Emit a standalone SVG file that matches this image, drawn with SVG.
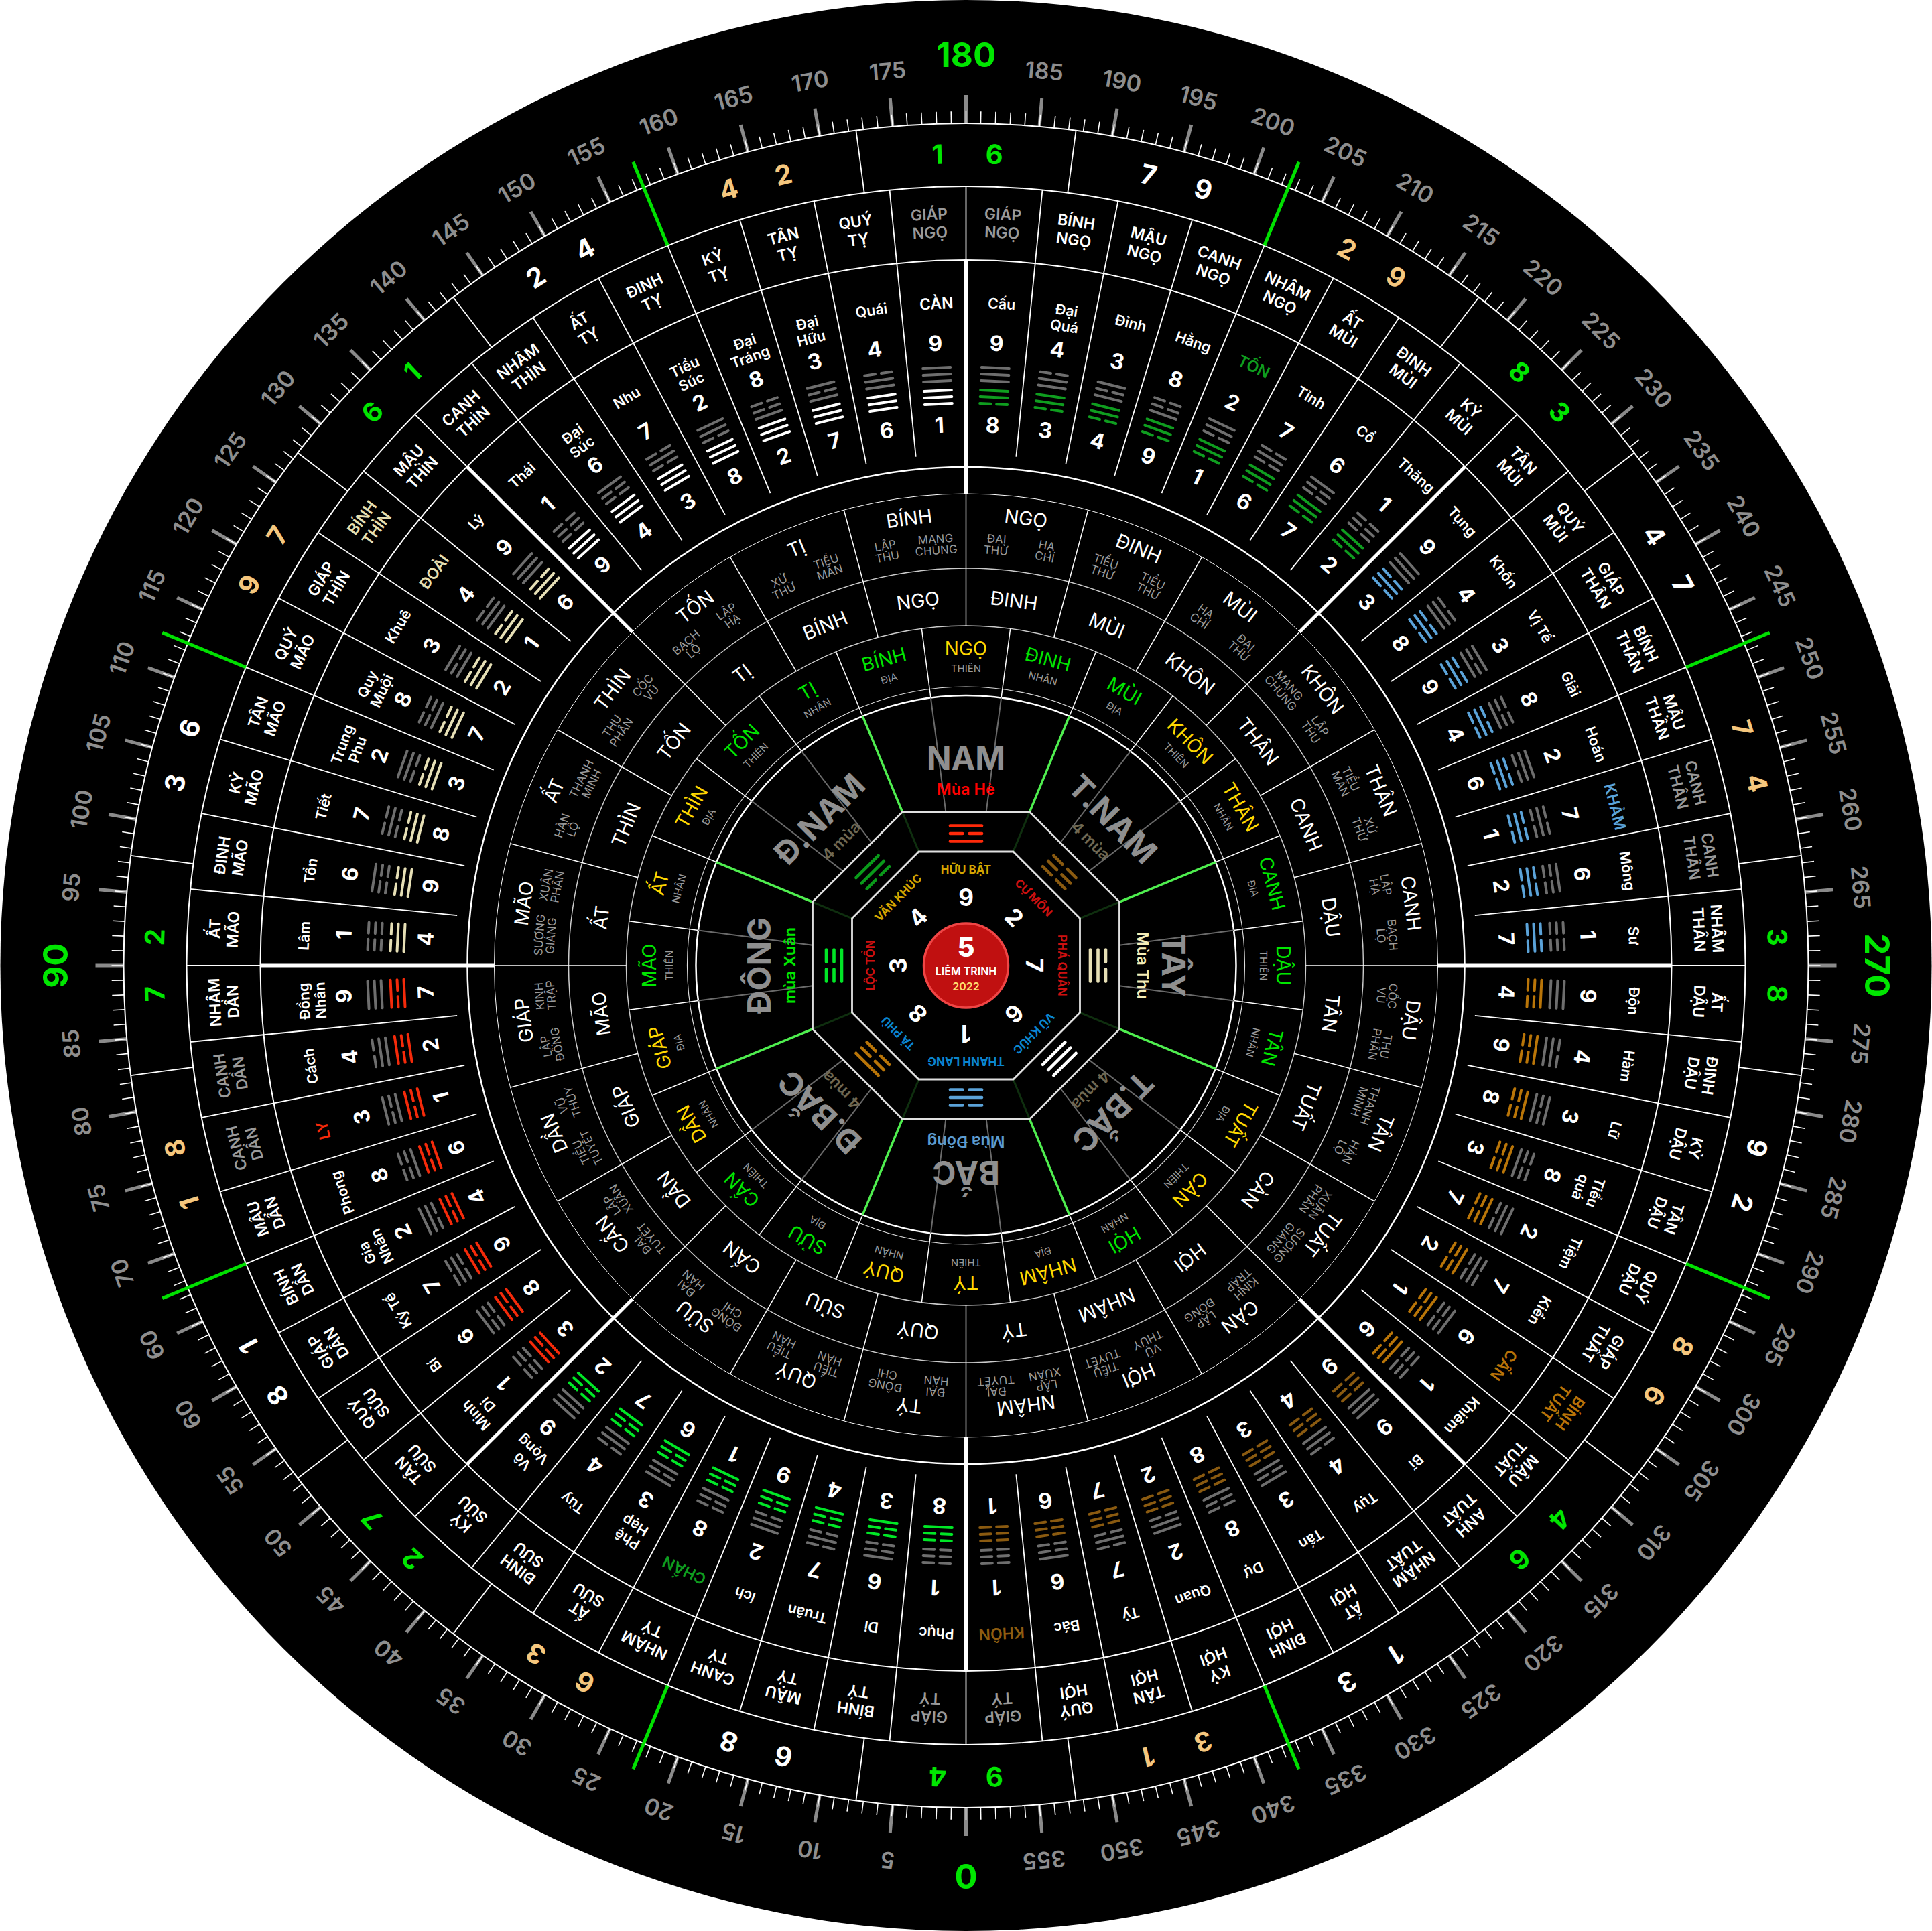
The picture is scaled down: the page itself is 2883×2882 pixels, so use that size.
<svg xmlns="http://www.w3.org/2000/svg" width="2883" height="2882" viewBox="0 0 2883 2882">
<style>
text{font-family:Inter,"Liberation Sans","Noto Sans",sans-serif;text-anchor:middle}
.dg{font-size:34px;font-weight:600;fill:#8e8e8e}
.dG{font-size:51px;font-weight:700;fill:#00e600}
.r{font-size:40px;font-weight:700}
.wh{fill:#fff}.gn{fill:#00e600}.tn{fill:#f5c77e}
.p{font-size:23px;font-weight:600;fill:#fff}
.pg{fill:#999}.po{fill:#b87308}.pc{fill:#e6dfb0}
.n{font-size:21.5px;font-weight:600;fill:#fff}
.N{font-size:23px}
.d{font-size:32px;font-weight:700;fill:#fff}
.o{font-size:28.5px;fill:#fff}
.s{font-size:17px;fill:#9a9a9a}
.t{font-size:28px}.ty{fill:#ffd800}.tg{fill:#00e600}
.u{font-size:15px;fill:#9a9a9a}
.b{font-size:48px;font-weight:700;fill:#8f8f8f}
.m{font-size:23.5px;font-weight:600}
.k{font-size:35px;font-weight:700;fill:#fff}
.l{font-size:17px;font-weight:700}
.c{fill:none;stroke:#fff}
.w{stroke:#fff;stroke-width:1.8}
.tr{fill:none;stroke-width:4;stroke-linecap:round}
</style>
<defs>
<path id="t111" d="M-20.5-10H20.5M-20.5 0H20.5M-20.5 10H20.5"/>
<path id="t011" d="M-20.5-10H-4.5M4.5-10H20.5M-20.5 0H20.5M-20.5 10H20.5"/>
<path id="t101" d="M-20.5-10H20.5M-20.5 0H-4.5M4.5 0H20.5M-20.5 10H20.5"/>
<path id="t001" d="M-20.5-10H-4.5M4.5-10H20.5M-20.5 0H-4.5M4.5 0H20.5M-20.5 10H20.5"/>
<path id="t110" d="M-20.5-10H20.5M-20.5 0H20.5M-20.5 10H-4.5M4.5 10H20.5"/>
<path id="t010" d="M-20.5-10H-4.5M4.5-10H20.5M-20.5 0H20.5M-20.5 10H-4.5M4.5 10H20.5"/>
<path id="t100" d="M-20.5-10H20.5M-20.5 0H-4.5M4.5 0H20.5M-20.5 10H-4.5M4.5 10H20.5"/>
<path id="t000" d="M-20.5-10H-4.5M4.5-10H20.5M-20.5 0H-4.5M4.5 0H20.5M-20.5 10H-4.5M4.5 10H20.5"/>
<g id="u111" class="tr" stroke="#6e6e6e" transform="translate(0 -883)"><use href="#t111"/></g>
<g id="u011" class="tr" stroke="#6e6e6e" transform="translate(0 -883)"><use href="#t011"/></g>
<g id="u101" class="tr" stroke="#6e6e6e" transform="translate(0 -883)"><use href="#t101"/></g>
<g id="u001" class="tr" stroke="#6e6e6e" transform="translate(0 -883)"><use href="#t001"/></g>
<g id="u110" class="tr" stroke="#6e6e6e" transform="translate(0 -883)"><use href="#t110"/></g>
<g id="u010" class="tr" stroke="#6e6e6e" transform="translate(0 -883)"><use href="#t010"/></g>
<g id="u100" class="tr" stroke="#6e6e6e" transform="translate(0 -883)"><use href="#t100"/></g>
<g id="u000" class="tr" stroke="#6e6e6e" transform="translate(0 -883)"><use href="#t000"/></g>
<g id="lT" class="tr" stroke="#0f9d1f" transform="translate(0 -849)"><use href="#t110"/></g>
<g id="lK" class="tr" stroke="#5ba3d9" transform="translate(0 -849)"><use href="#t010"/></g>
<g id="lC" class="tr" stroke="#b97508" transform="translate(0 -849)"><use href="#t100"/></g>
<g id="lN" class="tr" stroke="#8a5a10" transform="translate(0 -849)"><use href="#t000"/></g>
<g id="lH" class="tr" stroke="#00e626" transform="translate(0 -849)"><use href="#t001"/></g>
<g id="lL" class="tr" stroke="#f52a0a" transform="translate(0 -849)"><use href="#t101"/></g>
<g id="lD" class="tr" stroke="#e6dfb5" transform="translate(0 -849)"><use href="#t011"/></g>
<g id="lQ" class="tr" stroke="#fff" transform="translate(0 -849)"><use href="#t111"/></g>
<g id="d5"><line y1="-1257" y2="-1299" stroke="#8a8a8a" stroke-width="5"/><line y1="-1257" y2="-1275" stroke="#fff" stroke-width="1.6"/><line transform="rotate(1)" y1="-1257" y2="-1275" stroke="#fff" stroke-width="1.6"/><line transform="rotate(2)" y1="-1257" y2="-1275" stroke="#fff" stroke-width="1.6"/><line transform="rotate(3)" y1="-1257" y2="-1275" stroke="#fff" stroke-width="1.6"/><line transform="rotate(4)" y1="-1257" y2="-1275" stroke="#fff" stroke-width="1.6"/></g>
<g id="d30"><use href="#d5"/><use href="#d5" transform="rotate(5)"/><use href="#d5" transform="rotate(10)"/><use href="#d5" transform="rotate(15)"/><use href="#d5" transform="rotate(20)"/><use href="#d5" transform="rotate(25)"/></g>
<line id="hs" class="w" y1="-1163" y2="-763"/>
<g id="oct45"><line class="w" y1="-1163" y2="-1053"/><line y1="-1053" y2="-704" stroke="#fff" stroke-width="5"/><use href="#hs" transform="rotate(5.625)"/><use href="#hs" transform="rotate(11.25)"/><use href="#hs" transform="rotate(16.875)"/><use href="#hs" transform="rotate(22.5)"/><use href="#hs" transform="rotate(28.125)"/><use href="#hs" transform="rotate(33.75)"/><use href="#hs" transform="rotate(39.375)"/></g>
<g id="rg15"><line class="w" y1="-1163" y2="-1257" transform="rotate(7.5)"/><line y1="-1163" y2="-1298" stroke="#00e000" stroke-width="5" transform="rotate(22.5)"/><line class="w" y1="-1163" y2="-1257" transform="rotate(37.5)"/></g>
<g id="mid"><line y1="-507" y2="-704" stroke="#fff" stroke-width="1.5"/><line y1="-403" y2="-507" stroke="#fff" stroke-width="1.5" transform="rotate(7.5)"/></g>
<g id="mid45"><use href="#mid"/><use href="#mid" transform="rotate(15)"/><use href="#mid" transform="rotate(30)"/><line y1="-231" y2="-403" stroke="#6a6a6a" stroke-width="2" transform="rotate(7.5)"/><line y1="-231" y2="-403" stroke="#6a6a6a" stroke-width="2" transform="rotate(-7.5)"/><line y1="-248" y2="-403" stroke="#4fee4f" stroke-width="3.5" transform="rotate(22.5)"/><line y1="-184" y2="-248" stroke="#0f2f0f" stroke-width="3" transform="rotate(22.5)"/></g>
</defs>
<rect width="2883" height="2882" fill="#fff"/>
<circle cx="1441.5" cy="1441" r="1441" fill="#000"/>
<g transform="translate(1441.5 1441)">
<g id="connectors">
<g id="ticks"><use href="#d30"/><use href="#d30" transform="rotate(30)"/><use href="#d30" transform="rotate(60)"/><use href="#d30" transform="rotate(90)"/><use href="#d30" transform="rotate(120)"/><use href="#d30" transform="rotate(150)"/><use href="#d30" transform="rotate(180)"/><use href="#d30" transform="rotate(210)"/><use href="#d30" transform="rotate(240)"/><use href="#d30" transform="rotate(270)"/><use href="#d30" transform="rotate(300)"/><use href="#d30" transform="rotate(330)"/></g>
<circle class="c" r="1257" stroke-width="2"/>
<circle class="c" r="1163" stroke-width="2"/>
<circle class="c" r="1053" stroke-width="2"/>
<circle class="c" r="744" stroke-width="2.5"/>
<circle class="c" r="704" stroke-width="1"/>
<circle class="c" r="593" stroke-width="1.5" style="stroke:#ccc"/>
<circle class="c" r="507" stroke-width="1.5" style="stroke:#ccc"/>
<circle class="c" r="416" stroke-width="1.2" style="stroke:#ddd"/>
<circle class="c" r="403" stroke-width="2.5"/>
<g id="ringlines"><use href="#rg15"/><use href="#rg15" transform="rotate(45)"/><use href="#rg15" transform="rotate(90)"/><use href="#rg15" transform="rotate(135)"/><use href="#rg15" transform="rotate(180)"/><use href="#rg15" transform="rotate(225)"/><use href="#rg15" transform="rotate(270)"/><use href="#rg15" transform="rotate(315)"/></g>
<g id="hexspokes"><use href="#oct45"/><use href="#oct45" transform="rotate(45)"/><use href="#oct45" transform="rotate(90)"/><use href="#oct45" transform="rotate(135)"/><use href="#oct45" transform="rotate(180)"/><use href="#oct45" transform="rotate(225)"/><use href="#oct45" transform="rotate(270)"/><use href="#oct45" transform="rotate(315)"/></g>
<g id="midspokes"><use href="#mid45"/><use href="#mid45" transform="rotate(45)"/><use href="#mid45" transform="rotate(90)"/><use href="#mid45" transform="rotate(135)"/><use href="#mid45" transform="rotate(180)"/><use href="#mid45" transform="rotate(225)"/><use href="#mid45" transform="rotate(270)"/><use href="#mid45" transform="rotate(315)"/></g>
</g>
<g id="degrees">
<text class="dG" y="-1341" transform="rotate(180)">0</text><text class="dg" y="-1328" transform="rotate(185)">5</text><text class="dg" y="-1328" transform="rotate(190)">10</text><text class="dg" y="-1328" transform="rotate(195)">15</text><text class="dg" y="-1328" transform="rotate(200)">20</text><text class="dg" y="-1328" transform="rotate(205)">25</text><text class="dg" y="-1328" transform="rotate(210)">30</text><text class="dg" y="-1328" transform="rotate(215)">35</text><text class="dg" y="-1328" transform="rotate(220)">40</text><text class="dg" y="-1328" transform="rotate(225)">45</text><text class="dg" y="-1328" transform="rotate(230)">50</text><text class="dg" y="-1328" transform="rotate(235)">55</text><text class="dg" y="-1328" transform="rotate(240)">60</text><text class="dg" y="-1328" transform="rotate(245)">60</text><text class="dg" y="-1328" transform="rotate(250)">70</text><text class="dg" y="-1328" transform="rotate(255)">75</text><text class="dg" y="-1328" transform="rotate(260)">80</text><text class="dg" y="-1328" transform="rotate(265)">85</text>
<text class="dG" y="-1341" transform="rotate(270)">90</text><text class="dg" y="-1328" transform="rotate(275)">95</text><text class="dg" y="-1328" transform="rotate(280)">100</text><text class="dg" y="-1328" transform="rotate(285)">105</text><text class="dg" y="-1328" transform="rotate(290)">110</text><text class="dg" y="-1328" transform="rotate(295)">115</text><text class="dg" y="-1328" transform="rotate(300)">120</text><text class="dg" y="-1328" transform="rotate(305)">125</text><text class="dg" y="-1328" transform="rotate(310)">130</text><text class="dg" y="-1328" transform="rotate(315)">135</text><text class="dg" y="-1328" transform="rotate(320)">140</text><text class="dg" y="-1328" transform="rotate(325)">145</text><text class="dg" y="-1328" transform="rotate(330)">150</text><text class="dg" y="-1328" transform="rotate(335)">155</text><text class="dg" y="-1328" transform="rotate(340)">160</text><text class="dg" y="-1328" transform="rotate(345)">165</text><text class="dg" y="-1328" transform="rotate(350)">170</text><text class="dg" y="-1328" transform="rotate(355)">175</text>
<text class="dG" y="-1341">180</text><text class="dg" y="-1328" transform="rotate(5)">185</text><text class="dg" y="-1328" transform="rotate(10)">190</text><text class="dg" y="-1328" transform="rotate(15)">195</text><text class="dg" y="-1328" transform="rotate(20)">200</text><text class="dg" y="-1328" transform="rotate(25)">205</text><text class="dg" y="-1328" transform="rotate(30)">210</text><text class="dg" y="-1328" transform="rotate(35)">215</text><text class="dg" y="-1328" transform="rotate(40)">220</text><text class="dg" y="-1328" transform="rotate(45)">225</text><text class="dg" y="-1328" transform="rotate(50)">230</text><text class="dg" y="-1328" transform="rotate(55)">235</text><text class="dg" y="-1328" transform="rotate(60)">240</text><text class="dg" y="-1328" transform="rotate(65)">245</text><text class="dg" y="-1328" transform="rotate(70)">250</text><text class="dg" y="-1328" transform="rotate(75)">255</text><text class="dg" y="-1328" transform="rotate(80)">260</text><text class="dg" y="-1328" transform="rotate(85)">265</text>
<text class="dG" y="-1341" transform="rotate(90)">270</text><text class="dg" y="-1328" transform="rotate(95)">275</text><text class="dg" y="-1328" transform="rotate(100)">280</text><text class="dg" y="-1328" transform="rotate(105)">285</text><text class="dg" y="-1328" transform="rotate(110)">290</text><text class="dg" y="-1328" transform="rotate(115)">295</text><text class="dg" y="-1328" transform="rotate(120)">300</text><text class="dg" y="-1328" transform="rotate(125)">305</text><text class="dg" y="-1328" transform="rotate(130)">310</text><text class="dg" y="-1328" transform="rotate(135)">315</text><text class="dg" y="-1328" transform="rotate(140)">320</text><text class="dg" y="-1328" transform="rotate(145)">325</text><text class="dg" y="-1328" transform="rotate(150)">330</text><text class="dg" y="-1328" transform="rotate(155)">335</text><text class="dg" y="-1328" transform="rotate(160)">340</text><text class="dg" y="-1328" transform="rotate(165)">345</text><text class="dg" y="-1328" transform="rotate(170)">350</text><text class="dg" y="-1328" transform="rotate(175)">355</text>
</g>
<g id="ring24">
<text class="r gn" y="-1197" transform="rotate(-2)">1</text><text class="r gn" y="-1197" transform="rotate(2)">6</text>
<text class="r wh" y="-1197" transform="rotate(13)">7</text><text class="r wh" y="-1197" transform="rotate(17)">9</text>
<text class="r tn" y="-1197" transform="rotate(28)">2</text><text class="r tn" y="-1197" transform="rotate(32)">9</text>
<text class="r gn" y="-1197" transform="rotate(43)">8</text><text class="r gn" y="-1197" transform="rotate(47)">3</text>
<text class="r wh" y="-1197" transform="rotate(58)">4</text><text class="r wh" y="-1197" transform="rotate(62)">7</text>
<text class="r tn" y="-1197" transform="rotate(73)">7</text><text class="r tn" y="-1197" transform="rotate(77)">4</text>
<text class="r gn" y="-1197" transform="rotate(88)">3</text><text class="r gn" y="-1197" transform="rotate(92)">8</text>
<text class="r wh" y="-1197" transform="rotate(103)">9</text><text class="r wh" y="-1197" transform="rotate(107)">2</text>
<text class="r tn" y="-1197" transform="rotate(118)">8</text><text class="r tn" y="-1197" transform="rotate(122)">6</text>
<text class="r gn" y="-1197" transform="rotate(133)">4</text><text class="r gn" y="-1197" transform="rotate(137)">6</text>
<text class="r wh" y="-1197" transform="rotate(148)">1</text><text class="r wh" y="-1197" transform="rotate(152)">3</text>
<text class="r tn" y="-1197" transform="rotate(163)">3</text><text class="r tn" y="-1197" transform="rotate(167)">1</text>
<text class="r gn" y="-1197" transform="rotate(178)">9</text><text class="r gn" y="-1197" transform="rotate(182)">4</text>
<text class="r wh" y="-1197" transform="rotate(193)">6</text><text class="r wh" y="-1197" transform="rotate(197)">8</text>
<text class="r tn" y="-1197" transform="rotate(208)">6</text><text class="r tn" y="-1197" transform="rotate(212)">3</text>
<text class="r gn" y="-1197" transform="rotate(223)">2</text><text class="r gn" y="-1197" transform="rotate(227)">7</text>
<text class="r wh" y="-1197" transform="rotate(238)">8</text><text class="r wh" y="-1197" transform="rotate(242)">1</text>
<text class="r tn" y="-1197" transform="rotate(253)">1</text><text class="r tn" y="-1197" transform="rotate(257)">8</text>
<text class="r gn" y="-1197" transform="rotate(268)">7</text><text class="r gn" y="-1197" transform="rotate(272)">2</text>
<text class="r wh" y="-1197" transform="rotate(283)">3</text><text class="r wh" y="-1197" transform="rotate(287)">6</text>
<text class="r tn" y="-1197" transform="rotate(298)">9</text><text class="r tn" y="-1197" transform="rotate(302)">7</text>
<text class="r gn" y="-1197" transform="rotate(313)">6</text><text class="r gn" y="-1197" transform="rotate(317)">1</text>
<text class="r wh" y="-1197" transform="rotate(328)">2</text><text class="r wh" y="-1197" transform="rotate(332)">4</text>
<text class="r tn" y="-1197" transform="rotate(343)">4</text><text class="r tn" y="-1197" transform="rotate(347)">2</text>
</g>
<g id="hexagrams">
<g id="h0" transform="rotate(2.8125)"><text class="p pg" y="-1114">GIÁP</text><text class="p pg" y="-1087">NGỌ</text><text class="d" y="-918">9</text><use href="#u111"/><use href="#lT"/><text class="d" y="-796">8</text></g>
<g id="h1" transform="rotate(8.4375)"><text class="p" y="-1114">BÍNH</text><text class="p" y="-1087">NGỌ</text><text class="d" y="-918">4</text><use href="#u011"/><use href="#lT"/><text class="d" y="-796">3</text></g>
<g id="h2" transform="rotate(14.0625)"><text class="p" y="-1114">MẬU</text><text class="p" y="-1087">NGỌ</text><text class="d" y="-918">3</text><use href="#u101"/><use href="#lT"/><text class="d" y="-796">4</text></g>
<g id="h3" transform="rotate(19.6875)"><text class="p" y="-1114">CANH</text><text class="p" y="-1087">NGỌ</text><text class="d" y="-918">8</text><use href="#u001"/><use href="#lT"/><text class="d" y="-796">9</text></g>
<g id="h4" transform="rotate(25.3125)"><text class="p" y="-1114">NHÂM</text><text class="p" y="-1087">NGỌ</text><text class="d" y="-918">2</text><use href="#u110"/><use href="#lT"/><text class="d" y="-796">1</text></g>
<g id="h5" transform="rotate(30.9375)"><text class="p" y="-1114">ẤT</text><text class="p" y="-1087">MÙI</text><text class="d" y="-918">7</text><use href="#u010"/><use href="#lT"/><text class="d" y="-796">6</text></g>
<g id="h6" transform="rotate(36.5625)"><text class="p" y="-1114">ĐINH</text><text class="p" y="-1087">MÙI</text><text class="d" y="-918">6</text><use href="#u100"/><use href="#lT"/><text class="d" y="-796">7</text></g>
<g id="h7" transform="rotate(42.1875)"><text class="p" y="-1114">KỶ</text><text class="p" y="-1087">MÙI</text><text class="d" y="-918">1</text><use href="#u000"/><use href="#lT"/><text class="d" y="-796">2</text></g>
<g id="h8" transform="rotate(47.8125)"><text class="p" y="-1114">TÂN</text><text class="p" y="-1087">MÙI</text><text class="d" y="-918">9</text><use href="#u111"/><use href="#lK"/><text class="d" y="-796">3</text></g>
<g id="h9" transform="rotate(53.4375)"><text class="p" y="-1114">QUÝ</text><text class="p" y="-1087">MÙI</text><text class="d" y="-918">4</text><use href="#u011"/><use href="#lK"/><text class="d" y="-796">8</text></g>
<g id="h10" transform="rotate(59.0625)"><text class="p" y="-1114">GIÁP</text><text class="p" y="-1087">THÂN</text><text class="d" y="-918">3</text><use href="#u101"/><use href="#lK"/><text class="d" y="-796">9</text></g>
<g id="h11" transform="rotate(64.6875)"><text class="p" y="-1114">BÍNH</text><text class="p" y="-1087">THÂN</text><text class="d" y="-918">8</text><use href="#u001"/><use href="#lK"/><text class="d" y="-796">4</text></g>
<g id="h12" transform="rotate(70.3125)"><text class="p" y="-1114">MẬU</text><text class="p" y="-1087">THÂN</text><text class="d" y="-918">2</text><use href="#u110"/><use href="#lK"/><text class="d" y="-796">6</text></g>
<g id="h13" transform="rotate(75.9375)"><text class="p pg" y="-1114">CANH</text><text class="p pg" y="-1087">THÂN</text><text class="d" y="-918">7</text><use href="#u010"/><use href="#lK"/><text class="d" y="-796">1</text></g>
<g id="h14" transform="rotate(81.5625)"><text class="p pg" y="-1114">CANH</text><text class="p pg" y="-1087">THÂN</text><text class="d" y="-918">6</text><use href="#u100"/><use href="#lK"/><text class="d" y="-796">2</text></g>
<g id="h15" transform="rotate(87.1875)"><text class="p" y="-1114">NHÂM</text><text class="p" y="-1087">THÂN</text><text class="d" y="-918">1</text><use href="#u000"/><use href="#lK"/><text class="d" y="-796">7</text></g>
<g id="h16" transform="rotate(92.8125)"><text class="p" y="-1114">ẤT</text><text class="p" y="-1087">DẬU</text><text class="d" y="-918">9</text><use href="#u111"/><use href="#lC"/><text class="d" y="-796">4</text></g>
<g id="h17" transform="rotate(98.4375)"><text class="p" y="-1114">ĐINH</text><text class="p" y="-1087">DẬU</text><text class="d" y="-918">4</text><use href="#u011"/><use href="#lC"/><text class="d" y="-796">9</text></g>
<g id="h18" transform="rotate(104.0625)"><text class="p" y="-1114">KỶ</text><text class="p" y="-1087">DẬU</text><text class="d" y="-918">3</text><use href="#u101"/><use href="#lC"/><text class="d" y="-796">8</text></g>
<g id="h19" transform="rotate(109.6875)"><text class="p" y="-1114">TÂN</text><text class="p" y="-1087">DẬU</text><text class="d" y="-918">8</text><use href="#u001"/><use href="#lC"/><text class="d" y="-796">3</text></g>
<g id="h20" transform="rotate(115.3125)"><text class="p" y="-1114">QUÝ</text><text class="p" y="-1087">DẬU</text><text class="d" y="-918">2</text><use href="#u110"/><use href="#lC"/><text class="d" y="-796">7</text></g>
<g id="h21" transform="rotate(120.9375)"><text class="p" y="-1114">GIÁP</text><text class="p" y="-1087">TUẤT</text><text class="d" y="-918">7</text><use href="#u010"/><use href="#lC"/><text class="d" y="-796">2</text></g>
<g id="h22" transform="rotate(126.5625)"><text class="p po" y="-1114">BÍNH</text><text class="p po" y="-1087">TUẤT</text><text class="d" y="-918">6</text><use href="#u100"/><use href="#lC"/><text class="d" y="-796">1</text></g>
<g id="h23" transform="rotate(132.1875)"><text class="p" y="-1114">MẬU</text><text class="p" y="-1087">TUẤT</text><text class="d" y="-918">1</text><use href="#u000"/><use href="#lC"/><text class="d" y="-796">6</text></g>
<g id="h24" transform="rotate(137.8125)"><text class="p" y="-1114">ANH</text><text class="p" y="-1087">TUẤT</text><text class="d" y="-918">9</text><use href="#u111"/><use href="#lN"/><text class="d" y="-796">9</text></g>
<g id="h25" transform="rotate(143.4375)"><text class="p" y="-1114">NHÂM</text><text class="p" y="-1087">TUẤT</text><text class="d" y="-918">4</text><use href="#u011"/><use href="#lN"/><text class="d" y="-796">4</text></g>
<g id="h26" transform="rotate(149.0625)"><text class="p" y="-1114">ẤT</text><text class="p" y="-1087">HỢI</text><text class="d" y="-918">3</text><use href="#u101"/><use href="#lN"/><text class="d" y="-796">3</text></g>
<g id="h27" transform="rotate(154.6875)"><text class="p" y="-1114">ĐINH</text><text class="p" y="-1087">HỢI</text><text class="d" y="-918">8</text><use href="#u001"/><use href="#lN"/><text class="d" y="-796">8</text></g>
<g id="h28" transform="rotate(160.3125)"><text class="p" y="-1114">KỶ</text><text class="p" y="-1087">HỢI</text><text class="d" y="-918">2</text><use href="#u110"/><use href="#lN"/><text class="d" y="-796">2</text></g>
<g id="h29" transform="rotate(165.9375)"><text class="p" y="-1114">TÂN</text><text class="p" y="-1087">HỢI</text><text class="d" y="-918">7</text><use href="#u010"/><use href="#lN"/><text class="d" y="-796">7</text></g>
<g id="h30" transform="rotate(171.5625)"><text class="p" y="-1114">QUÝ</text><text class="p" y="-1087">HỢI</text><text class="d" y="-918">6</text><use href="#u100"/><use href="#lN"/><text class="d" y="-796">6</text></g>
<g id="h31" transform="rotate(177.1875)"><text class="p pg" y="-1114">GIÁP</text><text class="p pg" y="-1087">TÝ</text><text class="d" y="-918">1</text><use href="#u000"/><use href="#lN"/><text class="d" y="-796">1</text></g>
<g id="h32" transform="rotate(182.8125)"><text class="p pg" y="-1114">GIÁP</text><text class="p pg" y="-1087">TÝ</text><text class="d" y="-918">1</text><use href="#u000"/><use href="#lH"/><text class="d" y="-796">8</text></g>
<g id="h33" transform="rotate(188.4375)"><text class="p" y="-1114">BÍNH</text><text class="p" y="-1087">TÝ</text><text class="d" y="-918">6</text><use href="#u100"/><use href="#lH"/><text class="d" y="-796">3</text></g>
<g id="h34" transform="rotate(194.0625)"><text class="p" y="-1114">MẬU</text><text class="p" y="-1087">TÝ</text><text class="d" y="-918">7</text><use href="#u010"/><use href="#lH"/><text class="d" y="-796">4</text></g>
<g id="h35" transform="rotate(199.6875)"><text class="p" y="-1114">CANH</text><text class="p" y="-1087">TÝ</text><text class="d" y="-918">2</text><use href="#u110"/><use href="#lH"/><text class="d" y="-796">9</text></g>
<g id="h36" transform="rotate(205.3125)"><text class="p" y="-1114">NHÂM</text><text class="p" y="-1087">TÝ</text><text class="d" y="-918">8</text><use href="#u001"/><use href="#lH"/><text class="d" y="-796">1</text></g>
<g id="h37" transform="rotate(210.9375)"><text class="p" y="-1114">ẤT</text><text class="p" y="-1087">SỬU</text><text class="d" y="-918">3</text><use href="#u101"/><use href="#lH"/><text class="d" y="-796">6</text></g>
<g id="h38" transform="rotate(216.5625)"><text class="p" y="-1114">ĐINH</text><text class="p" y="-1087">SỬU</text><text class="d" y="-918">4</text><use href="#u011"/><use href="#lH"/><text class="d" y="-796">7</text></g>
<g id="h39" transform="rotate(222.1875)"><text class="p" y="-1114">KỶ</text><text class="p" y="-1087">SỬU</text><text class="d" y="-918">9</text><use href="#u111"/><use href="#lH"/><text class="d" y="-796">2</text></g>
<g id="h40" transform="rotate(227.8125)"><text class="p" y="-1114">TÂN</text><text class="p" y="-1087">SỬU</text><text class="d" y="-918">1</text><use href="#u000"/><use href="#lL"/><text class="d" y="-796">3</text></g>
<g id="h41" transform="rotate(233.4375)"><text class="p" y="-1114">QUÝ</text><text class="p" y="-1087">SỬU</text><text class="d" y="-918">6</text><use href="#u100"/><use href="#lL"/><text class="d" y="-796">8</text></g>
<g id="h42" transform="rotate(239.0625)"><text class="p" y="-1114">GIÁP</text><text class="p" y="-1087">DẦN</text><text class="d" y="-918">7</text><use href="#u010"/><use href="#lL"/><text class="d" y="-796">9</text></g>
<g id="h43" transform="rotate(244.6875)"><text class="p" y="-1114">BÍNH</text><text class="p" y="-1087">DẦN</text><text class="d" y="-918">2</text><use href="#u110"/><use href="#lL"/><text class="d" y="-796">4</text></g>
<g id="h44" transform="rotate(250.3125)"><text class="p" y="-1114">MẬU</text><text class="p" y="-1087">DẦN</text><text class="d" y="-918">8</text><use href="#u001"/><use href="#lL"/><text class="d" y="-796">6</text></g>
<g id="h45" transform="rotate(255.9375)"><text class="p pg" y="-1114">CANH</text><text class="p pg" y="-1087">DẦN</text><text class="d" y="-918">3</text><use href="#u101"/><use href="#lL"/><text class="d" y="-796">1</text></g>
<g id="h46" transform="rotate(261.5625)"><text class="p pg" y="-1114">CANH</text><text class="p pg" y="-1087">DẦN</text><text class="d" y="-918">4</text><use href="#u011"/><use href="#lL"/><text class="d" y="-796">2</text></g>
<g id="h47" transform="rotate(267.1875)"><text class="p" y="-1114">NHÂM</text><text class="p" y="-1087">DẦN</text><text class="d" y="-918">9</text><use href="#u111"/><use href="#lL"/><text class="d" y="-796">7</text></g>
<g id="h48" transform="rotate(272.8125)"><text class="p" y="-1114">ẤT</text><text class="p" y="-1087">MÃO</text><text class="d" y="-918">1</text><use href="#u000"/><use href="#lD"/><text class="d" y="-796">4</text></g>
<g id="h49" transform="rotate(278.4375)"><text class="p" y="-1114">ĐINH</text><text class="p" y="-1087">MÃO</text><text class="d" y="-918">6</text><use href="#u100"/><use href="#lD"/><text class="d" y="-796">9</text></g>
<g id="h50" transform="rotate(284.0625)"><text class="p" y="-1114">KỶ</text><text class="p" y="-1087">MÃO</text><text class="d" y="-918">7</text><use href="#u010"/><use href="#lD"/><text class="d" y="-796">8</text></g>
<g id="h51" transform="rotate(289.6875)"><text class="p" y="-1114">TÂN</text><text class="p" y="-1087">MÃO</text><text class="d" y="-918">2</text><use href="#u110"/><use href="#lD"/><text class="d" y="-796">3</text></g>
<g id="h52" transform="rotate(295.3125)"><text class="p" y="-1114">QUÝ</text><text class="p" y="-1087">MÃO</text><text class="d" y="-918">8</text><use href="#u001"/><use href="#lD"/><text class="d" y="-796">7</text></g>
<g id="h53" transform="rotate(300.9375)"><text class="p" y="-1114">GIÁP</text><text class="p" y="-1087">THÌN</text><text class="d" y="-918">3</text><use href="#u101"/><use href="#lD"/><text class="d" y="-796">2</text></g>
<g id="h54" transform="rotate(306.5625)"><text class="p pc" y="-1114">BÍNH</text><text class="p pc" y="-1087">THÌN</text><text class="d" y="-918">4</text><use href="#u011"/><use href="#lD"/><text class="d" y="-796">1</text></g>
<g id="h55" transform="rotate(312.1875)"><text class="p" y="-1114">MẬU</text><text class="p" y="-1087">THÌN</text><text class="d" y="-918">9</text><use href="#u111"/><use href="#lD"/><text class="d" y="-796">6</text></g>
<g id="h56" transform="rotate(317.8125)"><text class="p" y="-1114">CANH</text><text class="p" y="-1087">THÌN</text><text class="d" y="-918">1</text><use href="#u000"/><use href="#lQ"/><text class="d" y="-796">9</text></g>
<g id="h57" transform="rotate(323.4375)"><text class="p" y="-1114">NHÂM</text><text class="p" y="-1087">THÌN</text><text class="d" y="-918">6</text><use href="#u100"/><use href="#lQ"/><text class="d" y="-796">4</text></g>
<g id="h58" transform="rotate(329.0625)"><text class="p" y="-1114">ẤT</text><text class="p" y="-1087">TỴ</text><text class="d" y="-918">7</text><use href="#u010"/><use href="#lQ"/><text class="d" y="-796">3</text></g>
<g id="h59" transform="rotate(334.6875)"><text class="p" y="-1114">ĐINH</text><text class="p" y="-1087">TỴ</text><text class="d" y="-918">2</text><use href="#u110"/><use href="#lQ"/><text class="d" y="-796">8</text></g>
<g id="h60" transform="rotate(340.3125)"><text class="p" y="-1114">KỶ</text><text class="p" y="-1087">TỴ</text><text class="d" y="-918">8</text><use href="#u001"/><use href="#lQ"/><text class="d" y="-796">2</text></g>
<g id="h61" transform="rotate(345.9375)"><text class="p" y="-1114">TÂN</text><text class="p" y="-1087">TỴ</text><text class="d" y="-918">3</text><use href="#u101"/><use href="#lQ"/><text class="d" y="-796">7</text></g>
<g id="h62" transform="rotate(351.5625)"><text class="p" y="-1114">QUÝ</text><text class="p" y="-1087">TỴ</text><text class="d" y="-918">4</text><use href="#u011"/><use href="#lQ"/><text class="d" y="-796">6</text></g>
<g id="h63" transform="rotate(357.1875)"><text class="p pg" y="-1114">GIÁP</text><text class="p pg" y="-1087">NGỌ</text><text class="d" y="-918">9</text><use href="#u111"/><use href="#lQ"/><text class="d" y="-796">1</text></g>
</g>
<g id="hexagram-names" transform="translate(4.5 4.5)">
<g transform="rotate(2.8125)"><text class="n" y="-985.5">Cấu</text></g>
<g transform="rotate(8.4375)"><text class="n" y="-985.5">Đại</text><text class="n" y="-961.5">Quá</text></g>
<g transform="rotate(14.0625)"><text class="n" y="-985.5">Đỉnh</text></g>
<g transform="rotate(19.6875)"><text class="n" y="-985.5">Hằng</text></g>
<g transform="rotate(25.3125)"><text class="n N" y="-985.5" style="fill:#0f9d1f">TỐN</text></g>
<g transform="rotate(30.9375)"><text class="n" y="-985.5">Tỉnh</text></g>
<g transform="rotate(36.5625)"><text class="n" y="-985.5">Cổ</text></g>
<g transform="rotate(42.1875)"><text class="n" y="-985.5">Thăng</text></g>
<g transform="rotate(47.8125)"><text class="n" y="-985.5">Tụng</text></g>
<g transform="rotate(53.4375)"><text class="n" y="-985.5">Khốn</text></g>
<g transform="rotate(59.0625)"><text class="n" y="-985.5">Vị Tế</text></g>
<g transform="rotate(64.6875)"><text class="n" y="-985.5">Giải</text></g>
<g transform="rotate(70.3125)"><text class="n" y="-985.5">Hoán</text></g>
<g transform="rotate(75.9375)"><text class="n N" y="-985.5" style="fill:#5ba3d9">KHẢM</text></g>
<g transform="rotate(81.5625)"><text class="n" y="-985.5">Mông</text></g>
<g transform="rotate(87.1875)"><text class="n" y="-985.5">Sư</text></g>
<g transform="rotate(92.8125)"><text class="n" y="-985.5">Độn</text></g>
<g transform="rotate(98.4375)"><text class="n" y="-985.5">Hàm</text></g>
<g transform="rotate(104.0625)"><text class="n" y="-985.5">Lữ</text></g>
<g transform="rotate(109.6875)"><text class="n" y="-985.5">Tiểu</text><text class="n" y="-961.5">quá</text></g>
<g transform="rotate(115.3125)"><text class="n" y="-985.5">Tiệm</text></g>
<g transform="rotate(120.9375)"><text class="n" y="-985.5">Kiển</text></g>
<g transform="rotate(126.5625)"><text class="n N" y="-985.5" style="fill:#b87308">CẤN</text></g>
<g transform="rotate(132.1875)"><text class="n" y="-985.5">Khiêm</text></g>
<g transform="rotate(137.8125)"><text class="n" y="-985.5">Bĩ</text></g>
<g transform="rotate(143.4375)"><text class="n" y="-985.5">Tụy</text></g>
<g transform="rotate(149.0625)"><text class="n" y="-985.5">Tấn</text></g>
<g transform="rotate(154.6875)"><text class="n" y="-985.5">Dự</text></g>
<g transform="rotate(160.3125)"><text class="n" y="-985.5">Quan</text></g>
<g transform="rotate(165.9375)"><text class="n" y="-985.5">Tỷ</text></g>
<g transform="rotate(171.5625)"><text class="n" y="-985.5">Bác</text></g>
<g transform="rotate(177.1875)"><text class="n N" y="-985.5" style="fill:#8f5c10">KHÔN</text></g>
<g transform="rotate(182.8125)"><text class="n" y="-985.5">Phục</text></g>
<g transform="rotate(188.4375)"><text class="n" y="-985.5">Di</text></g>
<g transform="rotate(194.0625)"><text class="n" y="-985.5">Truân</text></g>
<g transform="rotate(199.6875)"><text class="n" y="-985.5">ích</text></g>
<g transform="rotate(205.3125)"><text class="n N" y="-985.5" style="fill:#0f9d1f">CHẤN</text></g>
<g transform="rotate(210.9375)"><text class="n" y="-985.5">Phệ</text><text class="n" y="-961.5">Hạp</text></g>
<g transform="rotate(216.5625)"><text class="n" y="-985.5">Tùy</text></g>
<g transform="rotate(222.1875)"><text class="n" y="-985.5">Vô</text><text class="n" y="-961.5">Vọng</text></g>
<g transform="rotate(227.8125)"><text class="n" y="-985.5">Minh</text><text class="n" y="-961.5">Di</text></g>
<g transform="rotate(233.4375)"><text class="n" y="-985.5">Bí</text></g>
<g transform="rotate(239.0625)"><text class="n" y="-985.5">Ký Tế</text></g>
<g transform="rotate(244.6875)"><text class="n" y="-985.5">Gia</text><text class="n" y="-961.5">Nhân</text></g>
<g transform="rotate(250.3125)"><text class="n" y="-985.5">Phong</text></g>
<g transform="rotate(255.9375)"><text class="n N" y="-985.5" style="fill:#f52a0a">LY</text></g>
<g transform="rotate(261.5625)"><text class="n" y="-985.5">Cách</text></g>
<g transform="rotate(267.1875)"><text class="n" y="-985.5">Đồng</text><text class="n" y="-961.5">Nhân</text></g>
<g transform="rotate(272.8125)"><text class="n" y="-985.5">Lâm</text></g>
<g transform="rotate(278.4375)"><text class="n" y="-985.5">Tổn</text></g>
<g transform="rotate(284.0625)"><text class="n" y="-985.5">Tiết</text></g>
<g transform="rotate(289.6875)"><text class="n" y="-985.5">Trung</text><text class="n" y="-961.5">Phu</text></g>
<g transform="rotate(295.3125)"><text class="n" y="-985.5">Quy</text><text class="n" y="-961.5">Muội</text></g>
<g transform="rotate(300.9375)"><text class="n" y="-985.5">Khuê</text></g>
<g transform="rotate(306.5625)"><text class="n N" y="-985.5" style="fill:#e6dfb0">ĐOÀI</text></g>
<g transform="rotate(312.1875)"><text class="n" y="-985.5">Lý</text></g>
<g transform="rotate(317.8125)"><text class="n" y="-985.5">Thái</text></g>
<g transform="rotate(323.4375)"><text class="n" y="-985.5">Đại</text><text class="n" y="-961.5">Súc</text></g>
<g transform="rotate(329.0625)"><text class="n" y="-985.5">Nhu</text></g>
<g transform="rotate(334.6875)"><text class="n" y="-985.5">Tiểu</text><text class="n" y="-961.5">Súc</text></g>
<g transform="rotate(340.3125)"><text class="n" y="-985.5">Đại</text><text class="n" y="-961.5">Tráng</text></g>
<g transform="rotate(345.9375)"><text class="n" y="-985.5">Đại</text><text class="n" y="-961.5">Hữu</text></g>
<g transform="rotate(351.5625)"><text class="n" y="-985.5">Quái</text></g>
<g transform="rotate(357.1875)"><text class="n N" y="-985.5">CÀN</text></g>
</g>
<g id="solar-labels" transform="translate(2.3 -5.5)">
<text class="o" y="-657.5" transform="rotate(7.5)">NGỌ</text><text class="o" y="-657.5" transform="rotate(22.5)">ĐINH</text><text class="o" y="-657.5" transform="rotate(37.5)">MÙI</text><text class="o" y="-657.5" transform="rotate(52.5)">KHÔN</text><text class="o" y="-657.5" transform="rotate(67.5)">THÂN</text><text class="o" y="-657.5" transform="rotate(82.5)">CANH</text><text class="o" y="-657.5" transform="rotate(97.5)">DẬU</text><text class="o" y="-657.5" transform="rotate(112.5)">TÂN</text><text class="o" y="-657.5" transform="rotate(127.5)">TUẤT</text><text class="o" y="-657.5" transform="rotate(142.5)">CÀN</text><text class="o" y="-657.5" transform="rotate(157.5)">HỢI</text><text class="o" y="-657.5" transform="rotate(172.5)">NHÂM</text><text class="o" y="-657.5" transform="rotate(187.5)">TÝ</text><text class="o" y="-657.5" transform="rotate(202.5)">QUÝ</text><text class="o" y="-657.5" transform="rotate(217.5)">SỬU</text><text class="o" y="-657.5" transform="rotate(232.5)">CẤN</text><text class="o" y="-657.5" transform="rotate(247.5)">DẦN</text><text class="o" y="-657.5" transform="rotate(262.5)">GIÁP</text><text class="o" y="-657.5" transform="rotate(277.5)">MÃO</text><text class="o" y="-657.5" transform="rotate(292.5)">ẤT</text><text class="o" y="-657.5" transform="rotate(307.5)">THÌN</text><text class="o" y="-657.5" transform="rotate(322.5)">TỐN</text><text class="o" y="-657.5" transform="rotate(337.5)">TỊ</text><text class="o" y="-657.5" transform="rotate(352.5)">BÍNH</text>
</g>
<g id="solar-ring">
<text class="s" y="-632" transform="rotate(4.1)">ĐẠI</text><text class="s" y="-615" transform="rotate(4.1)">THỬ</text><text class="s" y="-632" transform="rotate(10.9)">HẠ</text><text class="s" y="-615" transform="rotate(10.9)">CHÍ</text>
<text class="s" y="-632" transform="rotate(19.1)">TIỂU</text><text class="s" y="-615" transform="rotate(19.1)">THỬ</text><text class="s" y="-632" transform="rotate(25.9)">TIỂU</text><text class="s" y="-615" transform="rotate(25.9)">THỬ</text>
<text class="s" y="-632" transform="rotate(34.1)">HẠ</text><text class="s" y="-615" transform="rotate(34.1)">CHÍ</text><text class="s" y="-632" transform="rotate(40.9)">ĐẠI</text><text class="s" y="-615" transform="rotate(40.9)">THỬ</text>
<text class="s" y="-632" transform="rotate(49.1)">MANG</text><text class="s" y="-615" transform="rotate(49.1)">CHỦNG</text><text class="s" y="-632" transform="rotate(55.9)">LẬP</text><text class="s" y="-615" transform="rotate(55.9)">THU</text>
<text class="s" y="-632" transform="rotate(64.1)">TIỂU</text><text class="s" y="-615" transform="rotate(64.1)">MÃN</text><text class="s" y="-632" transform="rotate(70.9)">XỬ</text><text class="s" y="-615" transform="rotate(70.9)">THỬ</text>
<text class="s" y="-632" transform="rotate(79.1)">LẬP</text><text class="s" y="-615" transform="rotate(79.1)">HẠ</text><text class="s" y="-632" transform="rotate(85.9)">BẠCH</text><text class="s" y="-615" transform="rotate(85.9)">LỘ</text>
<text class="s" y="-632" transform="rotate(94.1)">CỐC</text><text class="s" y="-615" transform="rotate(94.1)">VŨ</text><text class="s" y="-632" transform="rotate(100.9)">THU</text><text class="s" y="-615" transform="rotate(100.9)">PHÂN</text>
<text class="s" y="-632" transform="rotate(109.1)">THANH</text><text class="s" y="-615" transform="rotate(109.1)">MINH</text><text class="s" y="-632" transform="rotate(115.9)">HÀN</text><text class="s" y="-615" transform="rotate(115.9)">LỘ</text>
<text class="s" y="-632" transform="rotate(124.1)">XUÂN</text><text class="s" y="-615" transform="rotate(124.1)">PHÂN</text><text class="s" y="-632" transform="rotate(130.9)">SƯƠNG</text><text class="s" y="-615" transform="rotate(130.9)">GIÁNG</text>
<text class="s" y="-632" transform="rotate(139.1)">KINH</text><text class="s" y="-615" transform="rotate(139.1)">TRẬP</text><text class="s" y="-632" transform="rotate(145.9)">LẬP</text><text class="s" y="-615" transform="rotate(145.9)">ĐÔNG</text>
<text class="s" y="-632" transform="rotate(154.1)">VŨ</text><text class="s" y="-615" transform="rotate(154.1)">THỦY</text><text class="s" y="-632" transform="rotate(160.9)">TIỂU</text><text class="s" y="-615" transform="rotate(160.9)">TUYẾT</text>
<text class="s" y="-632" transform="rotate(169.1)">LẬP</text><text class="s" y="-615" transform="rotate(169.1)">XUÂN</text><text class="s" y="-632" transform="rotate(175.9)">ĐẠI</text><text class="s" y="-615" transform="rotate(175.9)">TUYẾT</text>
<text class="s" y="-632" transform="rotate(184.1)">ĐẠI</text><text class="s" y="-615" transform="rotate(184.1)">HÀN</text><text class="s" y="-632" transform="rotate(190.9)">ĐÔNG</text><text class="s" y="-615" transform="rotate(190.9)">CHÍ</text>
<text class="s" y="-632" transform="rotate(199.1)">TIỂU</text><text class="s" y="-615" transform="rotate(199.1)">HÀN</text><text class="s" y="-632" transform="rotate(205.9)">TIỂU</text><text class="s" y="-615" transform="rotate(205.9)">HÀN</text>
<text class="s" y="-632" transform="rotate(214.1)">ĐÔNG</text><text class="s" y="-615" transform="rotate(214.1)">CHÍ</text><text class="s" y="-632" transform="rotate(220.9)">ĐẠI</text><text class="s" y="-615" transform="rotate(220.9)">HÀN</text>
<text class="s" y="-632" transform="rotate(229.1)">ĐẠI</text><text class="s" y="-615" transform="rotate(229.1)">TUYẾT</text><text class="s" y="-632" transform="rotate(235.9)">LẬP</text><text class="s" y="-615" transform="rotate(235.9)">XUÂN</text>
<text class="s" y="-632" transform="rotate(244.1)">TIỂU</text><text class="s" y="-615" transform="rotate(244.1)">TUYẾT</text><text class="s" y="-632" transform="rotate(250.9)">VŨ</text><text class="s" y="-615" transform="rotate(250.9)">THỦY</text>
<text class="s" y="-632" transform="rotate(259.1)">LẬP</text><text class="s" y="-615" transform="rotate(259.1)">ĐÔNG</text><text class="s" y="-632" transform="rotate(265.9)">KINH</text><text class="s" y="-615" transform="rotate(265.9)">TRẬP</text>
<text class="s" y="-632" transform="rotate(274.1)">SƯƠNG</text><text class="s" y="-615" transform="rotate(274.1)">GIÁNG</text><text class="s" y="-632" transform="rotate(280.9)">XUÂN</text><text class="s" y="-615" transform="rotate(280.9)">PHÂN</text>
<text class="s" y="-632" transform="rotate(289.1)">HÀN</text><text class="s" y="-615" transform="rotate(289.1)">LỘ</text><text class="s" y="-632" transform="rotate(295.9)">THANH</text><text class="s" y="-615" transform="rotate(295.9)">MINH</text>
<text class="s" y="-632" transform="rotate(304.1)">THU</text><text class="s" y="-615" transform="rotate(304.1)">PHÂN</text><text class="s" y="-632" transform="rotate(310.9)">CỐC</text><text class="s" y="-615" transform="rotate(310.9)">VŨ</text>
<text class="s" y="-632" transform="rotate(319.1)">BẠCH</text><text class="s" y="-615" transform="rotate(319.1)">LỘ</text><text class="s" y="-632" transform="rotate(325.9)">LẬP</text><text class="s" y="-615" transform="rotate(325.9)">HẠ</text>
<text class="s" y="-632" transform="rotate(334.1)">XỬ</text><text class="s" y="-615" transform="rotate(334.1)">THỬ</text><text class="s" y="-632" transform="rotate(340.9)">TIỂU</text><text class="s" y="-615" transform="rotate(340.9)">MÃN</text>
<text class="s" y="-632" transform="rotate(349.1)">LẬP</text><text class="s" y="-615" transform="rotate(349.1)">THU</text><text class="s" y="-632" transform="rotate(355.9)">MANG</text><text class="s" y="-615" transform="rotate(355.9)">CHỦNG</text>
</g>
<g id="mountain-ring">
<text class="o" y="-539" transform="rotate(7.5)">ĐINH</text><text class="o" y="-539" transform="rotate(22.5)">MÙI</text><text class="o" y="-539" transform="rotate(37.5)">KHÔN</text><text class="o" y="-539" transform="rotate(52.5)">THÂN</text><text class="o" y="-539" transform="rotate(67.5)">CANH</text><text class="o" y="-539" transform="rotate(82.5)">DẬU</text><text class="o" y="-539" transform="rotate(97.5)">TÂN</text><text class="o" y="-539" transform="rotate(112.5)">TUẤT</text><text class="o" y="-539" transform="rotate(127.5)">CÀN</text><text class="o" y="-539" transform="rotate(142.5)">HỢI</text><text class="o" y="-539" transform="rotate(157.5)">NHÂM</text><text class="o" y="-539" transform="rotate(172.5)">TÝ</text><text class="o" y="-539" transform="rotate(187.5)">QUÝ</text><text class="o" y="-539" transform="rotate(202.5)">SỬU</text><text class="o" y="-539" transform="rotate(217.5)">CẤN</text><text class="o" y="-539" transform="rotate(232.5)">DẦN</text><text class="o" y="-539" transform="rotate(247.5)">GIÁP</text><text class="o" y="-539" transform="rotate(262.5)">MÃO</text><text class="o" y="-539" transform="rotate(277.5)">ẤT</text><text class="o" y="-539" transform="rotate(292.5)">THÌN</text><text class="o" y="-539" transform="rotate(307.5)">TỐN</text><text class="o" y="-539" transform="rotate(322.5)">TỊ</text><text class="o" y="-539" transform="rotate(337.5)">BÍNH</text><text class="o" y="-539" transform="rotate(352.5)">NGỌ</text>
</g>
<g id="tnd-ring">
<g><text class="t ty" y="-463">NGỌ</text><text class="u" y="-438">THIÊN</text></g>
<g transform="rotate(15)"><text class="t tg" y="-463">ĐINH</text><text class="u" y="-438">NHÂN</text></g>
<g transform="rotate(30)"><text class="t tg" y="-463">MÙI</text><text class="u" y="-438">ĐỊA</text></g>
<g transform="rotate(45)"><text class="t ty" y="-463">KHÔN</text><text class="u" y="-438">THIÊN</text></g>
<g transform="rotate(60)"><text class="t ty" y="-463">THÂN</text><text class="u" y="-438">NHÂN</text></g>
<g transform="rotate(75)"><text class="t tg" y="-463">CANH</text><text class="u" y="-438">ĐỊA</text></g>
<g transform="rotate(90)"><text class="t tg" y="-463">DẬU</text><text class="u" y="-438">THIÊN</text></g>
<g transform="rotate(105)"><text class="t tg" y="-463">TÂN</text><text class="u" y="-438">NHÂN</text></g>
<g transform="rotate(120)"><text class="t ty" y="-463">TUẤT</text><text class="u" y="-438">ĐỊA</text></g>
<g transform="rotate(135)"><text class="t ty" y="-463">CÀN</text><text class="u" y="-438">THIÊN</text></g>
<g transform="rotate(150)"><text class="t tg" y="-463">HỢI</text><text class="u" y="-438">NHÂN</text></g>
<g transform="rotate(165)"><text class="t ty" y="-463">NHÂM</text><text class="u" y="-438">ĐỊA</text></g>
<g transform="rotate(180)"><text class="t ty" y="-463">TÝ</text><text class="u" y="-438">THIÊN</text></g>
<g transform="rotate(195)"><text class="t ty" y="-463">QUÝ</text><text class="u" y="-438">NHÂN</text></g>
<g transform="rotate(210)"><text class="t tg" y="-463">SỬU</text><text class="u" y="-438">ĐỊA</text></g>
<g transform="rotate(225)"><text class="t tg" y="-463">CẤN</text><text class="u" y="-438">THIÊN</text></g>
<g transform="rotate(240)"><text class="t ty" y="-463">DẦN</text><text class="u" y="-438">NHÂN</text></g>
<g transform="rotate(255)"><text class="t ty" y="-463">GIÁP</text><text class="u" y="-438">ĐỊA</text></g>
<g transform="rotate(270)"><text class="t tg" y="-463">MÃO</text><text class="u" y="-438">THIÊN</text></g>
<g transform="rotate(285)"><text class="t ty" y="-463">ẤT</text><text class="u" y="-438">NHÂN</text></g>
<g transform="rotate(300)"><text class="t ty" y="-463">THÌN</text><text class="u" y="-438">ĐỊA</text></g>
<g transform="rotate(315)"><text class="t tg" y="-463">TỐN</text><text class="u" y="-438">THIÊN</text></g>
<g transform="rotate(330)"><text class="t tg" y="-463">TỊ</text><text class="u" y="-438">NHÂN</text></g>
<g transform="rotate(345)"><text class="t tg" y="-463">BÍNH</text><text class="u" y="-438">ĐỊA</text></g>
</g>
<g id="directions">
<g id="dir-s"><text class="b" y="-292">NAM</text><text class="m" y="-255" fill="#ff0000">Mùa Hè</text><use href="#t101" class="tr" stroke="#ff2a0a" transform="translate(0 -197) scale(1.15)"/></g>
<g id="dir-sw" transform="rotate(45)"><text class="b" y="-292">T.NAM</text><text class="m" y="-255" fill="#6f6852">4 mùa</text><use href="#t000" class="tr" stroke="#8a5a10" transform="translate(0 -197) scale(1.15)"/></g>
<g id="dir-w" transform="rotate(90)"><text class="b" y="-292">TÂY</text><text class="m" y="-255" fill="#f5edb8">Mùa Thu</text><use href="#t011" class="tr" stroke="#e6dfb5" transform="translate(0 -197) scale(1.15)"/></g>
<g id="dir-nw" transform="rotate(135)"><text class="b" y="-292">T.BẮC</text><text class="m" y="-255" fill="#6f6852">4 mùa</text><use href="#t111" class="tr" stroke="#fff" transform="translate(0 -197) scale(1.15)"/></g>
<g id="dir-n" transform="rotate(180)"><text class="b" y="-292">BẮC</text><text class="m" y="-255" fill="#5b9bd0">Mùa Đông</text><use href="#t010" class="tr" stroke="#5ba3d9" transform="translate(0 -197) scale(1.15)"/></g>
<g id="dir-ne" transform="rotate(225)"><text class="b" y="-292">Đ.BẮC</text><text class="m" y="-255" fill="#6f6852">4 mùa</text><use href="#t100" class="tr" stroke="#b97508" transform="translate(0 -197) scale(1.15)"/></g>
<g id="dir-e" transform="rotate(270)"><text class="b" y="-292">ĐÔNG</text><text class="m" y="-255" fill="#00e600">mùa Xuân</text><use href="#t001" class="tr" stroke="#00e626" transform="translate(0 -197) scale(1.15)"/></g>
<g id="dir-se" transform="rotate(315)"><text class="b" y="-292">Đ.NAM</text><text class="m" y="-255" fill="#6f6852">4 mùa</text><use href="#t110" class="tr" stroke="#0a9a1a" transform="translate(0 -197) scale(1.15)"/></g>
</g>
<g id="octagons" fill="none" stroke="#e0e0e0" stroke-width="2.8">
<polygon points="-95,-229 95,-229 229,-95 229,95 95,229 -95,229 -229,95 -229,-95"/>
<polygon points="-70.5,-170 70.5,-170 170,-70.5 170,70.5 70.5,170 -70.5,170 -170,70.5 -170,-70.5"/>
</g>
<g id="stars">
<g><text class="k" y="-89">9</text><text class="l" y="-137" fill="#d4a500">HỮU BẬT</text></g>
<g transform="rotate(45)"><text class="k" y="-89">2</text><text class="l" y="-137" fill="#cc1010">CỰ MÔN</text></g>
<g transform="rotate(90)"><text class="k" y="-89">7</text><text class="l" y="-137" fill="#cc1010">PHÁ QUÂN</text></g>
<g transform="rotate(135)"><text class="k" y="-89">6</text><text class="l" y="-137" fill="#0a85d0">VŨ KHÚC</text></g>
<g transform="rotate(180)"><text class="k" y="-89">1</text><text class="l" y="-137" fill="#0a85d0">THANH LANG</text></g>
<g transform="rotate(225)"><text class="k" y="-89">8</text><text class="l" y="-137" fill="#0a85d0">TẢ PHÙ</text></g>
<g transform="rotate(270)"><text class="k" y="-89">3</text><text class="l" y="-137" fill="#cc1010">LỘC TỒN</text></g>
<g transform="rotate(315)"><text class="k" y="-89">4</text><text class="l" y="-137" fill="#d4a500">VĂN KHÚC</text></g>
</g>
<g id="center">
<circle r="63" fill="#c01010" stroke="#f04545" stroke-width="3.5"/>
<text y="-13" font-size="40" font-weight="800" fill="#fff">5</text>
<text y="14" font-size="16" font-weight="600" fill="#fff">LIÊM TRINH</text>
<text y="37" font-size="16" font-weight="600" fill="#ffe070">2022</text>
</g>
</g>
</svg>
